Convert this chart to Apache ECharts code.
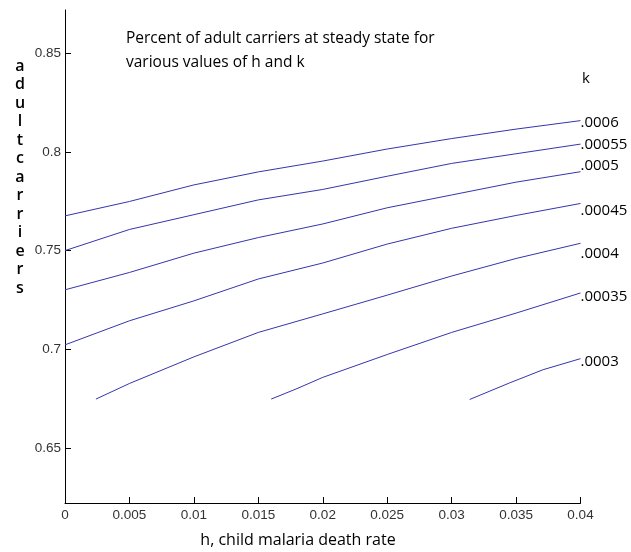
<!DOCTYPE html>
<html>
<head>
<meta charset="utf-8">
<script src="https://cdn.jsdelivr.net/npm/echarts@6/dist/echarts.min.js"></script>
<style>html,body{margin:0;padding:0;background:#fff}#c{width:631px;height:552px}</style>
</head>
<body>
<div id="c"></div>
<script>
// ---- data ----
const seriesNames = ['.0006', '.00055', '.0005', '.00045', '.0004', '.00035', '.0003'];
const hFull = [0, 0.005, 0.01, 0.015, 0.02, 0.025, 0.03, 0.035, 0.04];
const h0004 = [0.0024, 0.005, 0.01, 0.015, 0.02, 0.025, 0.03, 0.035, 0.04];
const h00035 = [0.016, 0.018, 0.02, 0.025, 0.03, 0.035, 0.04];
const h0003 = [0.0314, 0.0345, 0.0371, 0.04];
const k0006 = [0.7676, 0.7749, 0.7833, 0.7899, 0.7954, 0.8015, 0.8068, 0.8116, 0.8159];
const k00055 = [0.7500, 0.7607, 0.7682, 0.7757, 0.7810, 0.7877, 0.7942, 0.7991, 0.8040];
const k0005 = [0.7301, 0.7389, 0.7487, 0.7566, 0.7635, 0.7717, 0.7782, 0.7847, 0.7900];
const k00045 = [0.7022, 0.7144, 0.7245, 0.7356, 0.7437, 0.7533, 0.7613, 0.7678, 0.7739];
const k0004 = [0.6747, 0.6826, 0.6961, 0.7085, 0.7179, 0.7274, 0.7371, 0.7460, 0.7537];
const k00035 = [0.6747, 0.6800, 0.6857, 0.6973, 0.7085, 0.7183, 0.7285];
const k0003 = [0.6745, 0.6829, 0.6896, 0.6952];
const xTicks = [0, 0.005, 0.01, 0.015, 0.02, 0.025, 0.03, 0.035, 0.04];
const yTicks = [0.65, 0.7, 0.75, 0.8, 0.85];
const titleLines = ['Percent of adult carriers at steady state for', 'various values of h and k'];
const xName = 'h, child malaria death rate';
const yName = 'adult carriers';
const legendTitle = 'k';

// ---- styles (not data) ----
const labelOffsets = [2, 1, -6, 7, 10, 4, 3];
const lineColor = '#3535ad';
const textFont = '"Open Sans"';

const xSets = [hFull, hFull, hFull, hFull, h0004, h00035, h0003];
const ySets = [k0006, k00055, k0005, k00045, k0004, k00035, k0003];

const chart = echarts.init(document.getElementById('c'), null, {renderer: 'canvas'});

const series = seriesNames.map((name, i) => ({
  name: name,
  type: 'line',
  showSymbol: false,
  symbol: 'none',
  data: xSets[i].map((x, j) => [x, ySets[i][j]]),
  lineStyle: {color: lineColor, width: 1},
  itemStyle: {color: lineColor},
  emphasis: {disabled: true},
  endLabel: {
    show: true,
    formatter: name,
    fontFamily: 'Open Sans',
    fontSize: 15,
    color: '#000',
    distance: 0,
    offset: [0, labelOffsets[i]]
  }
}));

const yLetters = yName.replace(/ /g, '').split('').join('\n');

chart.setOption({
  animation: false,
  backgroundColor: '#fff',
  grid: {left: 65, right: 50.5, top: 10, bottom: 49, containLabel: false},
  xAxis: {
    type: 'value',
    min: 0, max: 0.04, interval: 0.005,
    axisLine: {show: true, lineStyle: {color: '#000', width: 1}},
    axisTick: {show: true, inside: true, length: 6, lineStyle: {color: '#000'}},
    axisLabel: {
      fontFamily: 'Liberation Sans', fontSize: 13.5, color: '#333', margin: 5,
      formatter: v => String(+v.toFixed(4))
    },
    splitLine: {show: false}
  },
  yAxis: {
    type: 'value',
    min: 0.622, max: 0.872,
    axisLine: {show: true, lineStyle: {color: '#000', width: 1}},
    axisTick: {show: true, inside: true, length: 6, lineStyle: {color: '#000'}, customValues: yTicks},
    axisLabel: {
      fontFamily: 'Liberation Sans', fontSize: 13.5, color: '#333', margin: 4,
      customValues: yTicks,
      formatter: v => String(+v.toFixed(4))
    },
    splitLine: {show: false}
  },
  graphic: [
    {type: 'text', left: 126, top: 27, style: {text: titleLines.join('\n'), font: '15.5px ' + textFont, fill: '#000', lineHeight: 24}},
    {type: 'text', x: 298, y: 540, style: {text: xName, font: '16px ' + textFont, fill: '#000', align: 'center', verticalAlign: 'middle'}},
    {type: 'text', x: 20, y: 57, style: {text: yLetters, font: '600 16px ' + textFont, fill: '#000', align: 'center', verticalAlign: 'top', lineHeight: 18.5}},
    {type: 'text', x: 582, y: 79, style: {text: legendTitle, font: '15px ' + textFont, fill: '#000', align: 'left', verticalAlign: 'middle'}}
  ],
  series: series
});
</script>
</body>
</html>
